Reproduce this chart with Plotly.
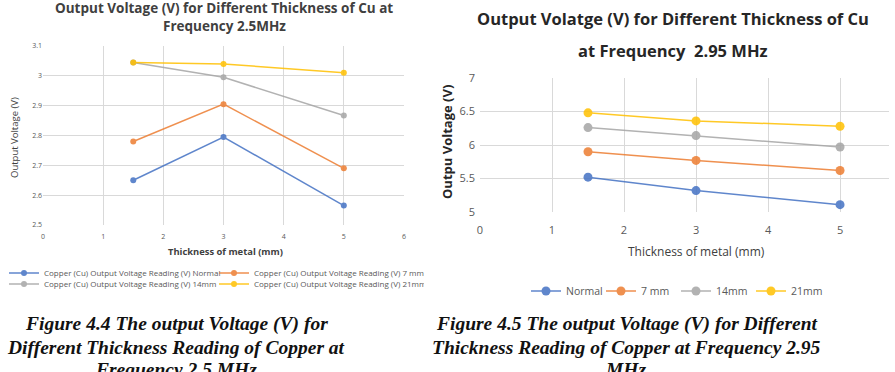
import plotly.graph_objects as go

# ---- data ----
thickness = [1.5, 3, 5]
series_names = ["Normal", "7 mm", "14mm", "21mm"]
left_normal = [2.65, 2.795, 2.565]
left_7mm = [2.78, 2.905, 2.69]
left_14mm = [3.045, 2.995, 2.867]
left_21mm = [3.045, 3.04, 3.01]
right_normal = [5.52, 5.32, 5.11]
right_7mm = [5.90, 5.77, 5.62]
right_14mm = [6.26, 6.14, 5.97]
right_21mm = [6.48, 6.36, 6.28]
left_legend_labels = [
    "Copper (Cu) Output Voltage Reading (V) Normal",
    "Copper (Cu) Output Voltage Reading (V) 7 mm",
    "Copper (Cu) Output Voltage Reading (V) 14mm",
    "Copper (Cu) Output Voltage Reading (V) 21mm",
]
colors = ["#4472C4", "#ED7D31", "#A5A5A5", "#FFC000"]

W, H = 895, 372
fig = go.Figure()

left_vals = [left_normal, left_7mm, left_14mm, left_21mm]
right_vals = [right_normal, right_7mm, right_14mm, right_21mm]
left_legend_ids = ["legend", "legend", "legend3", "legend3"]

for lab, vals, c, lg in zip(left_legend_labels, left_vals, colors, left_legend_ids):
    fig.add_trace(go.Scatter(x=thickness, y=vals, mode="lines+markers", name=lab,
                             line=dict(color=c, width=1.5), opacity=0.85,
                             marker=dict(size=6, color=c),
                             xaxis="x", yaxis="y", legend=lg))
for lab, vals, c in zip(series_names, right_vals, colors):
    fig.add_trace(go.Scatter(x=thickness, y=vals, mode="lines+markers", name=lab,
                             line=dict(color=c, width=1.5), opacity=0.85,
                             marker=dict(size=9, color=c),
                             xaxis="x2", yaxis="y2", legend="legend2"))

def px(x):
    return x / W

def py(y):
    return 1 - y / H

grid = "#D9D9D9"
tickc = "#595959"
lg_common = dict(orientation="h", xanchor="left", yanchor="middle", itemwidth=30,
                 tracegroupgap=0, bgcolor="rgba(0,0,0,0)", borderwidth=0)
fig.update_layout(
    width=W, height=H, margin=dict(l=0, r=0, t=0, b=0, autoexpand=False),
    paper_bgcolor="white", plot_bgcolor="white",
    font=dict(family="Open Sans, DejaVu Sans, sans-serif", color="#404040"),
    xaxis=dict(domain=[px(43), px(404)], range=[0, 6], dtick=1, showgrid=True,
               gridcolor=grid, zeroline=False, showline=False, ticks="", automargin=False,
               ticklabelstandoff=6,
               tickfont=dict(size=7, color=tickc), anchor="y"),
    yaxis=dict(domain=[py(225), py(46)], range=[2.5, 3.1], dtick=0.1, showgrid=True,
               gridcolor=grid, zeroline=False, showline=False, ticks="", automargin=False,
               tickfont=dict(size=7, color=tickc), tickformat="~g", anchor="x"),
    xaxis2=dict(domain=[px(480), px(889)], range=[0, 5.68], dtick=1, showgrid=True,
                gridcolor=grid, zeroline=False, showline=False, ticks="", automargin=False,
                ticklabelstandoff=10,
                tickfont=dict(size=11, color=tickc), anchor="y2"),
    yaxis2=dict(domain=[py(212), py(78)], range=[5, 7], dtick=0.5, showgrid=True,
                gridcolor=grid, zeroline=False, showline=False, ticks="", automargin=False,
                ticklabelstandoff=4,
                tickfont=dict(size=11, color=tickc), tickformat="~g", anchor="x2"),
    legend=dict(x=px(4), y=py(273), font=dict(size=8, color=tickc), entrywidth=165, **lg_common),
    legend3=dict(x=px(4), y=py(284), font=dict(size=8, color=tickc), entrywidth=165, **lg_common),
    legend2=dict(x=px(526), y=py(291), font=dict(size=10.5, color=tickc), entrywidth=30,
                 **lg_common),
    showlegend=True,
)

ann = []
def A(text, x, y, size, color="#404040", angle=0, fam=None, xa="center", ya="middle"):
    f = dict(size=size, color=color)
    if fam:
        f["family"] = fam
    ann.append(dict(text=text, x=px(x), y=py(y), xref="paper", yref="paper",
                    xanchor=xa, yanchor=ya, showarrow=False, textangle=angle,
                    font=f, align="center"))

# chart titles
A("<b>Output Voltage (V) for Different Thickness of Cu at</b>", 224, 8, 13.5)
A("<b>Frequency 2.5MHz</b>", 224, 26, 13.5)
A("<b>Output Volatge (V) for Different Thickness of Cu</b>", 673, 19, 16.5, "#262626")
A("<b>at Frequency  2.95 MHz</b>", 673, 50, 16.5, "#262626")
# axis titles
A("<b>Thickness of metal (mm)</b>", 225, 252, 9.4)
A("Output Voltage (V)", 14, 138, 9.5, angle=-90)
A("Thickness of metal (mm)", 696, 252, 12)
A("<b>Outpu Voltage (V)</b>", 447, 142, 13, "#262626", angle=-90)
# figure captions
serif = "Liberation Serif, Times New Roman, serif"
cap_left = ["Figure 4.4 The output Voltage (V) for",
            "Different Thickness Reading of Copper at",
            "Frequency 2.5 MHz"]
cap_right = ["Figure 4.5 The output Voltage (V) for Different",
             "Thickness Reading of Copper at Frequency 2.95",
             "MHz"]
for i, yy in enumerate([324, 347, 369]):
    A("<b><i>%s</i></b>" % cap_left[i], 176, yy, 19.5, "#111111", fam=serif)
    A("<b><i>%s</i></b>" % cap_right[i], 626, yy, 19.5, "#111111", fam=serif)
fig.update_layout(annotations=ann)

fig.write_html("out.html")
